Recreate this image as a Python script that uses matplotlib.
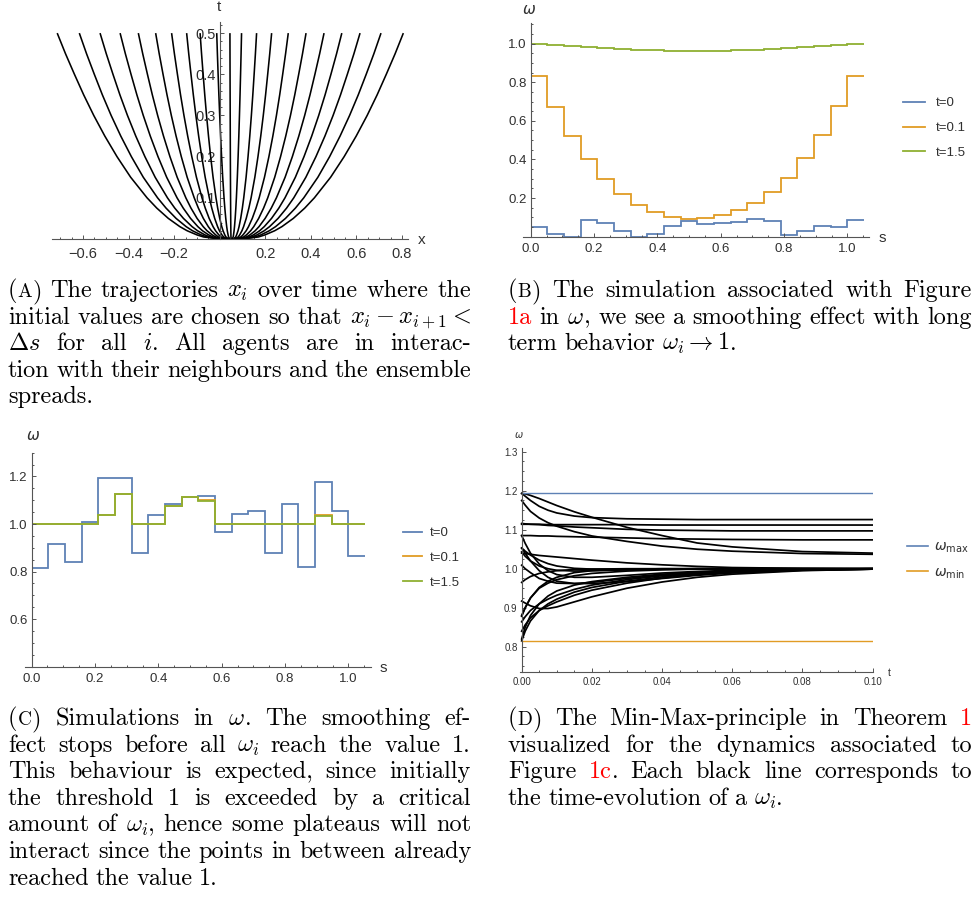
import re
import numpy as np
import matplotlib
matplotlib.use("Agg")
import matplotlib.pyplot as plt
from matplotlib.ticker import FixedLocator, MultipleLocator, FuncFormatter
from matplotlib.lines import Line2D

# ---------------- data ----------------
# Panel A: trajectories x_i(t); start values and values at t = 0.5
a_x_start = [0.000, 0.005, 0.010, 0.015, 0.020, 0.025, 0.030, 0.035, 0.040, 0.045, 0.050,
             0.055, 0.060, 0.065, 0.070, 0.075, 0.080, 0.085, 0.090, 0.095, 0.100]
a_x_end = [-0.713, -0.616, -0.525, -0.437, -0.357, -0.281, -0.211, -0.145, -0.086, -0.013, 0.045,
           0.096, 0.162, 0.228, 0.301, 0.379, 0.458, 0.536, 0.616, 0.708, 0.806]
# spread profile (fraction of final spread)
a_t = [0, 0.005, 0.01, 0.02, 0.03, 0.05, 0.075, 0.1, 0.15, 0.2, 0.25, 0.3, 0.35, 0.4, 0.45, 0.5]
a_frac = [0, 0.10, 0.14, 0.20, 0.245, 0.316, 0.387, 0.447, 0.548, 0.632, 0.707, 0.775, 0.837, 0.894, 0.949, 1.0]

# Panels B/C: step data over s, bin width 1/19
s_step = 1 / 19
b_t0 = [0.050, 0.014, 0.000, 0.085, 0.071, 0.032, 0.000, 0.014, 0.057, 0.080,
        0.065, 0.071, 0.074, 0.090, 0.080, 0.009, 0.030, 0.057, 0.050, 0.085]
b_t01 = [0.830, 0.670, 0.520, 0.400, 0.297, 0.220, 0.165, 0.126, 0.103, 0.094,
         0.097, 0.111, 0.136, 0.177, 0.230, 0.306, 0.405, 0.529, 0.676, 0.833]
b_t15 = [0.997, 0.992, 0.987, 0.982, 0.978, 0.973, 0.969, 0.966, 0.964, 0.963,
         0.963, 0.964, 0.966, 0.969, 0.973, 0.977, 0.981, 0.986, 0.991, 0.996]

c_t0 = [0.815, 0.917, 0.840, 1.009, 1.193, 1.193, 0.878, 1.040, 1.085, 1.112,
        1.116, 0.965, 1.043, 1.053, 0.880, 1.085, 0.820, 1.175, 1.053, 0.864]
c_t01 = [1.000, 1.000, 1.000, 1.000, 1.040, 1.126, 1.000, 1.000, 1.074, 1.112,
         1.100, 1.000, 1.000, 1.000, 1.000, 1.000, 1.000, 1.037, 1.000, 1.000]
c_t15 = [1.000, 1.000, 1.000, 1.000, 1.036, 1.126, 1.000, 1.000, 1.074, 1.112,
         1.095, 1.000, 1.000, 1.000, 1.000, 1.000, 1.000, 1.035, 1.000, 1.000]
legend_labels = ["t=0", "t=0.1", "t=1.5"]

# Panel D: time evolution of each omega_i
d_t = [0, 0.001, 0.0025, 0.005, 0.0075, 0.01, 0.015, 0.02, 0.03, 0.04, 0.05, 0.06, 0.08, 0.1]
d_curves = [
    [0.815, 0.840, 0.866, 0.893, 0.910, 0.922, 0.940, 0.952, 0.968, 0.979, 0.987, 0.992, 0.997, 0.999],
    [0.917, 0.912, 0.905, 0.898, 0.898, 0.902, 0.915, 0.928, 0.950, 0.966, 0.978, 0.986, 0.995, 0.999],
    [0.840, 0.856, 0.874, 0.893, 0.905, 0.915, 0.932, 0.945, 0.963, 0.976, 0.985, 0.991, 0.997, 0.999],
    [1.009, 1.000, 0.990, 0.975, 0.968, 0.963, 0.962, 0.965, 0.975, 0.984, 0.990, 0.994, 0.998, 1.000],
    [1.193, 1.192, 1.188, 1.180, 1.171, 1.162, 1.146, 1.132, 1.106, 1.085, 1.066, 1.056, 1.044, 1.040],
    [1.193, 1.186, 1.175, 1.160, 1.150, 1.143, 1.135, 1.131, 1.128, 1.127, 1.126, 1.126, 1.126, 1.126],
    [0.878, 0.900, 0.925, 0.952, 0.968, 0.978, 0.990, 0.995, 0.998, 1.000, 1.000, 1.000, 1.000, 1.000],
    [1.040, 1.039, 1.037, 1.034, 1.032, 1.030, 1.026, 1.022, 1.015, 1.010, 1.006, 1.003, 1.001, 1.000],
    [1.085, 1.085, 1.085, 1.084, 1.084, 1.083, 1.082, 1.081, 1.079, 1.077, 1.076, 1.075, 1.074, 1.074],
    [1.114, 1.114, 1.114, 1.114, 1.113, 1.113, 1.113, 1.113, 1.113, 1.112, 1.112, 1.112, 1.112, 1.112],
    [1.116, 1.115, 1.114, 1.113, 1.111, 1.110, 1.107, 1.105, 1.101, 1.099, 1.098, 1.097, 1.097, 1.097],
    [0.965, 0.972, 0.980, 0.988, 0.992, 0.995, 0.998, 0.999, 1.000, 1.000, 1.000, 1.000, 1.000, 1.000],
    [1.043, 1.032, 1.020, 1.007, 1.000, 0.996, 0.994, 0.995, 0.997, 0.999, 1.000, 1.000, 1.000, 1.000],
    [1.053, 1.040, 1.020, 0.995, 0.978, 0.968, 0.962, 0.962, 0.967, 0.975, 0.983, 0.989, 0.996, 0.999],
    [0.880, 0.900, 0.925, 0.950, 0.963, 0.972, 0.982, 0.988, 0.994, 0.997, 0.999, 1.000, 1.000, 1.000],
    [1.085, 1.065, 1.040, 1.012, 0.995, 0.985, 0.978, 0.978, 0.983, 0.989, 0.993, 0.996, 0.999, 1.000],
    [0.820, 0.850, 0.880, 0.910, 0.930, 0.943, 0.958, 0.967, 0.978, 0.986, 0.991, 0.994, 0.998, 1.000],
    [1.175, 1.163, 1.147, 1.130, 1.118, 1.109, 1.095, 1.084, 1.070, 1.058, 1.050, 1.045, 1.039, 1.037],
    [1.053, 1.045, 1.035, 1.022, 1.013, 1.007, 1.001, 0.999, 0.998, 0.999, 1.000, 1.000, 1.000, 1.000],
    [0.864, 0.877, 0.893, 0.910, 0.922, 0.932, 0.947, 0.958, 0.972, 0.982, 0.988, 0.993, 0.997, 0.999],
]
d_legend = [r"$\omega_{\rm max}$", r"$\omega_{\rm min}$"]

# ---------------- style ----------------
W, H = 979, 911
BLUE, ORANGE, GREEN = "#5E81B5", "#E19C24", "#8FB032"
AXC, LABC = "#555555", "#303030"
SANS = "Liberation Sans"

fig = plt.figure(figsize=(W / 100, H / 100), dpi=100)


def rect(l, t, r, b):
    return [l / W, 1 - b / H, (r - l) / W, (b - t) / H]


def ftext(x, y, s, **kw):
    return fig.text(x / W, 1 - y / H, s, **kw)


def fmt(nd):
    return FuncFormatter(lambda v, p: f"{v:.{nd}f}".replace("-", "\u2212"))


def style(ax, lsize, xmaj, xmin, ymaj, ymin, xnd=1, ynd=1, pad=4.5):
    for s in ["top", "right"]:
        ax.spines[s].set_visible(False)
    ax.spines["left"].set_position(("data", 0))
    for s in ["left", "bottom"]:
        ax.spines[s].set_color(AXC)
        ax.spines[s].set_linewidth(0.8)
    ax.xaxis.set_major_locator(FixedLocator(xmaj))
    ax.xaxis.set_minor_locator(MultipleLocator(xmin))
    ax.yaxis.set_major_locator(FixedLocator(ymaj))
    ax.yaxis.set_minor_locator(MultipleLocator(ymin))
    ax.xaxis.set_major_formatter(fmt(xnd))
    ax.yaxis.set_major_formatter(fmt(ynd))
    ax.tick_params(which="both", direction="in", color=AXC, labelcolor=LABC,
                   labelsize=lsize, width=0.7)
    ax.tick_params(which="major", length=3.2)
    ax.tick_params(axis="x", which="major", pad=pad)
    ax.tick_params(axis="y", which="major", pad=3)
    ax.tick_params(which="minor", length=1.7)
    for lab in ax.get_xticklabels() + ax.get_yticklabels():
        lab.set_family(SANS)
    ax.patch.set_alpha(0)


# ---------------- Panel A ----------------
axA = fig.add_axes(rect(52.2, 22, 407.9, 239))
for x0, x1 in zip(a_x_start, a_x_end):
    xs = x0 + (x1 - x0) * np.asarray(a_frac)
    axA.plot(xs, a_t, color="black", lw=1.15, solid_capstyle="butt")
axA.set_xlim(-0.735, 0.826)
axA.set_ylim(0, 0.527)
style(axA, 10.5, [-0.6, -0.4, -0.2, 0.2, 0.4, 0.6, 0.8], 0.05, [0.1, 0.2, 0.3, 0.4, 0.5], 0.02, pad=6)
ftext(219, 7, "t", family=SANS, fontsize=11, color=LABC, ha="center", va="center")
ftext(422, 240, "x", family=SANS, fontsize=11, color=LABC, ha="center", va="center")

# ---------------- Panel B ----------------
s_edges = np.arange(len(b_t0) + 1) * s_step
axB = fig.add_axes(rect(523.1, 23.3, 869.3, 236.7))
hB = []
for vals, col in zip([b_t0, b_t01, b_t15], [BLUE, ORANGE, GREEN]):
    axB.stairs(vals, s_edges, baseline=None, color=col, lw=1.3)
    hB.append(Line2D([], [], color=col, lw=1.3))
axB.set_xlim(-0.024, 1.069)
axB.set_ylim(0, 1.105)
style(axB, 9.5, [0, 0.2, 0.4, 0.6, 0.8, 1.0], 0.05, [0.2, 0.4, 0.6, 0.8, 1.0], 0.05)
ftext(529, 10, r"$\omega$", fontsize=11, color=LABC, ha="center", va="center")
ftext(882, 238, "s", family=SANS, fontsize=11, color=LABC, ha="center", va="center")
fig.legend(hB, legend_labels, loc="center left", bbox_to_anchor=(903 / W, 1 - 128 / H),
           frameon=False, prop={"family": SANS, "size": 9.5}, handlelength=1.65,
           handletextpad=0.85, labelspacing=0.95, borderpad=0, borderaxespad=0,
           labelcolor=LABC)

# ---------------- Panel C ----------------
axC = fig.add_axes(rect(25, 452.7, 371.5, 666.7))
hC = []
for vals, col in zip([c_t0, c_t01, c_t15], [BLUE, ORANGE, GREEN]):
    axC.stairs(vals, s_edges, baseline=None, color=col, lw=1.3)
    hC.append(Line2D([], [], color=col, lw=1.3))
axC.set_xlim(-0.021, 1.073)
axC.set_ylim(0.4, 1.3)
style(axC, 9.5, [0, 0.2, 0.4, 0.6, 0.8, 1.0], 0.05, [0.6, 0.8, 1.0, 1.2], 0.05)
ftext(33, 436, r"$\omega$", fontsize=11, color=LABC, ha="center", va="center")
ftext(383, 668, "s", family=SANS, fontsize=11, color=LABC, ha="center", va="center")
fig.legend(hC, legend_labels, loc="center left", bbox_to_anchor=(403 / W, 1 - 558 / H),
           frameon=False, prop={"family": SANS, "size": 9.5}, handlelength=1.45,
           handletextpad=0.6, labelspacing=0.95, borderpad=0, borderaxespad=0,
           labelcolor=LABC)

# ---------------- Panel D ----------------
axD = fig.add_axes(rect(520, 448, 873.3, 671.7))
for curve in d_curves:
    axD.plot(d_t, curve, color="black", lw=1.25)
w_max = max(c_t0)
w_min = min(c_t0)
axD.plot([d_t[0], d_t[-1]], [w_max, w_max], color=BLUE, lw=1.0)
axD.plot([d_t[0], d_t[-1]], [w_min, w_min], color=ORANGE, lw=1.0)
axD.set_xlim(-0.00048, 0.1002)
axD.set_ylim(0.736, 1.3095)
style(axD, 7, [0, 0.02, 0.04, 0.06, 0.08, 0.1], 0.005, [0.8, 0.9, 1.0, 1.1, 1.2, 1.3], 0.025,
      xnd=2, pad=4)
ftext(519, 435, r"$\omega$", fontsize=7, color=LABC, ha="center", va="center")
ftext(889, 673, "t", family=SANS, fontsize=7.5, color=LABC, ha="center", va="center")
hD = [Line2D([], [], color=BLUE, lw=1.2), Line2D([], [], color=ORANGE, lw=1.2)]
fig.legend(hD, d_legend, loc="center left", bbox_to_anchor=(906.7 / W, 1 - 560 / H),
           frameon=False, prop={"size": 10}, handlelength=1.5,
           handletextpad=0.5, labelspacing=0.75, borderpad=0, borderaxespad=0,
           labelcolor=LABC)

# ---------------- Captions ----------------
RED = "#FF0000"
renderer = fig.canvas.get_renderer()


def parse_word(word):
    segs = []
    for part in re.split(r"(\$[^$]*\$|§[^§]*§|\^[^^]*\^)", word):
        if not part:
            continue
        if part.startswith("§"):
            segs.append((part[1:-1], RED, 1.0))
        elif part.startswith("^"):
            segs.append((part[1:-1], "black", 0.8))
        else:
            segs.append((part, "black", 1.0))
    return segs


def word_width(word, size):
    tot = 0.0
    for txt, col, sc in parse_word(word):
        t = ftext(0, 0, txt, fontsize=size * sc, family="cmr10", math_fontfamily="cm")
        tot += t.get_window_extent(renderer=renderer).width
        t.remove()
    return tot


# calibrate caption size: a line of the reference set with natural spacing spans 463 px
CAP0 = 15.8
calib = "tion with their neighbours and the ensemble".split()
wsum = sum(word_width(w, CAP0) for w in calib)
CAP = CAP0 * (463 - 6 * 6.7) / wsum
SPACE = 6.9


def caption(lines, x0, x1, ybase, step):
    for k, line in enumerate(lines):
        justify = not line.endswith("|")
        line = line.rstrip("|")
        words = re.findall(r"\S*\$[^$]*\$\S*|\S+", line)
        yb = ybase + k * step
        arts, widths = [], []
        for word in words:
            wa, ww = [], 0.0
            for txt, col, sc in parse_word(word):
                t = ftext(0, yb, txt, fontsize=CAP * sc, color=col, family="cmr10",
                          math_fontfamily="cm", va="baseline", ha="left")
                w = t.get_window_extent(renderer=renderer).width
                wa.append((t, w))
                ww += w
            arts.append(wa)
            widths.append(ww)
        if justify and len(words) > 1:
            gap = (x1 - x0 - sum(widths)) / (len(words) - 1)
        else:
            gap = SPACE
        x = x0
        for wa, ww in zip(arts, widths):
            xx = x
            for t, w in wa:
                t.set_x(xx / W)
                xx += w
            x += ww + gap


capA = [
    r"(^A^) The trajectories $x_i$ over time where the",
    r"initial values are chosen so that $x_i - x_{i+1} <$",
    r"$\Delta s$ for all $i$. All agents are in interac-",
    r"tion with their neighbours and the ensemble",
    r"spreads.|",
]
capB = [
    r"(^B^) The simulation associated with Figure",
    r"§1a§ in $\omega$, we see a smoothing effect with long",
    r"term behavior $\omega_i \to 1$.|",
]
capC = [
    r"(^C^) Simulations in $\omega$. The smoothing ef-",
    r"fect stops before all $\omega_i$ reach the value 1.",
    r"This behaviour is expected, since initially",
    r"the threshold 1 is exceeded by a critical",
    r"amount of $\omega_i$, hence some plateaus will not",
    r"interact since the points in between already",
    r"reached the value 1.|",
]
capD = [
    r"(^D^) The Min-Max-principle in Theorem §1§",
    r"visualized for the dynamics associated to",
    r"Figure §1c§. Each black line corresponds to",
    r"the time-evolution of a $\omega_i$.|",
]
caption(capA, 8, 471, 297, 26.6)
caption(capB, 508, 972, 297, 26.6)
caption(capC, 8, 471, 725, 26.6)
caption(capD, 508, 972, 725, 26.6)

fig.savefig("out.png", dpi=100)
